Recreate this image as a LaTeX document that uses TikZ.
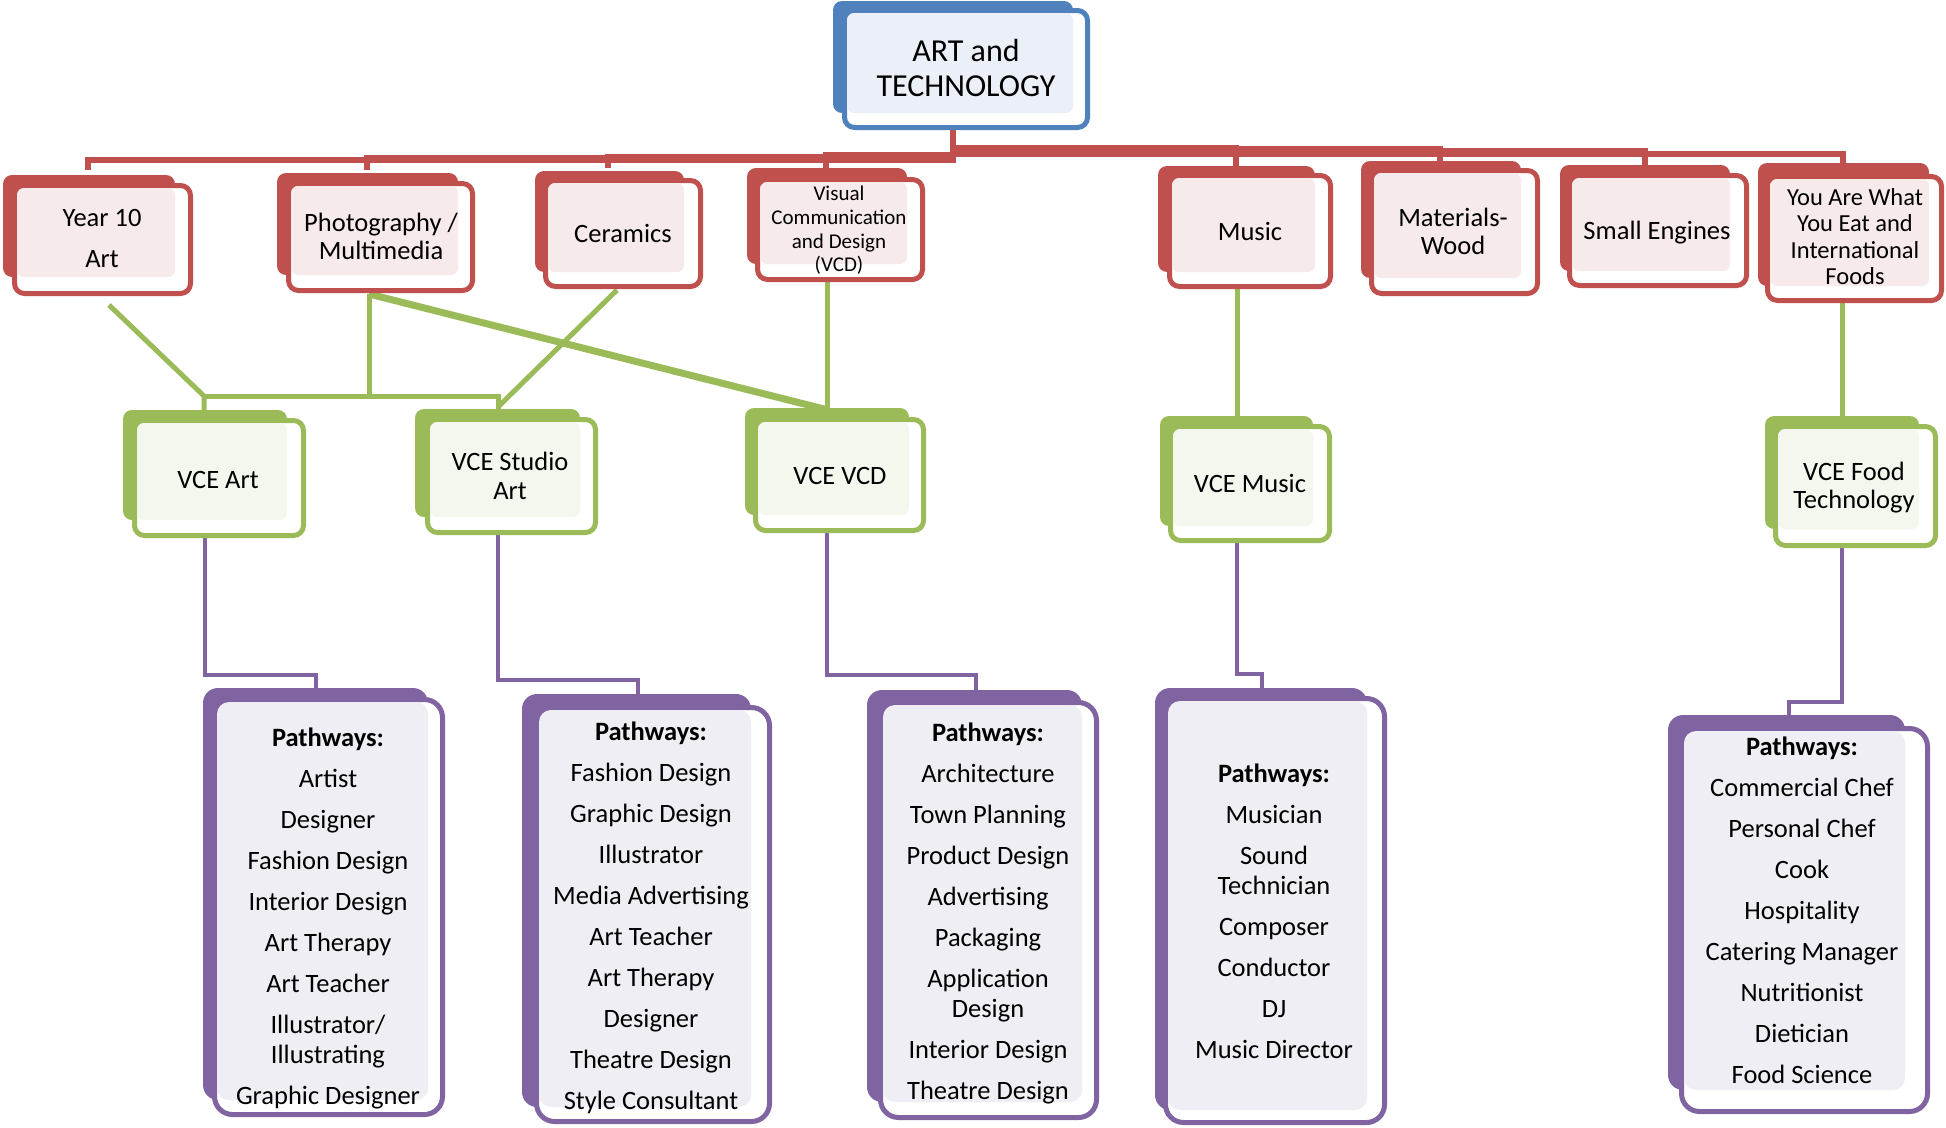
\documentclass[tikz,border=0pt]{standalone}
\usepackage{fontspec}
\setmainfont{Carlito}
\definecolor{R}{HTML}{C0504D}
\definecolor{RT}{HTML}{F7EAEA}
\definecolor{G}{HTML}{9BBB59}
\definecolor{GT}{HTML}{F4F7EE}
\definecolor{B}{HTML}{4F81BD}
\definecolor{BT}{HTML}{EBF0F8}
\definecolor{P}{HTML}{8064A2}
\definecolor{PT}{HTML}{F0EEF5}
\tikzset{
  backR/.style={fill=R, rounded corners=9pt},
  frontR/.style={draw=R, fill=white, line width=5pt, rounded corners=10pt},
  tintR/.style={fill=RT, rounded corners=7pt},
  backG/.style={fill=G, rounded corners=9pt},
  frontG/.style={draw=G, fill=white, line width=5pt, rounded corners=10pt},
  tintG/.style={fill=GT, rounded corners=7pt},
  backB/.style={fill=B, rounded corners=9pt},
  frontB/.style={draw=B, fill=white, line width=5pt, rounded corners=10pt},
  tintB/.style={fill=BT, rounded corners=7pt},
  backP/.style={fill=P, rounded corners=15pt},
  frontP/.style={draw=P, fill=white, line width=5pt, rounded corners=18pt},
  tintP/.style={fill=PT, rounded corners=12pt},
  conR/.style={draw=R, line width=6pt},
  conG/.style={draw=G, line width=5pt},
  conGw/.style={draw=G, line width=7pt},
  conP/.style={draw=P, line width=4.5pt},
  txt/.style={align=center, inner sep=0pt, text=black},
  fTop/.style={font=\fontsize{32}{35}\selectfont},
  fOne/.style={font=\fontsize{26.5}{28.5}\selectfont},
  fVcd/.style={font=\fontsize{21}{23.6}\selectfont},
  fYou/.style={font=\fontsize{24.5}{26.5}\selectfont},
  fPath/.style={font=\fontsize{26.5}{30}\selectfont},
}
\newcommand{\sabox}[9]{%
  \fill[back#1] (#2,#3) rectangle (#4,#5);
  \draw[front#1] ({#6+2.5},{#7+2.5}) rectangle ({#8-2.5},{#9-2.5});
  \fill[tint#1] ({#6+5},{#7+5}) rectangle (#4,#5);
}
\begin{document}
\begin{tikzpicture}[x=1pt,y=-1pt]
\useasboundingbox (0,0) rectangle (1946,1127);
% ---------- connector points ----------
\coordinate (artS) at (953,118);
\coordinate (jY) at (953,160);
\coordinate (jP) at (953,158);
\coordinate (jC) at (953,157);
\coordinate (jV) at (953,155);
\coordinate (jM) at (953,148);
\coordinate (jW) at (953,149);
\coordinate (jS) at (953,150.5);
\coordinate (jA) at (953,154);
\coordinate (y10N) at (88,170);
\coordinate (phN) at (367,170);
\coordinate (ceN) at (608,168);
\coordinate (vcdN) at (826,172);
\coordinate (muN) at (1236,168);
\coordinate (maN) at (1440,166);
\coordinate (smN) at (1645,168);
\coordinate (yaN) at (1843,168);
% green
\coordinate (y10S) at (109,305);
\coordinate (gA) at (204,396);
\coordinate (vaN) at (204,410);
\coordinate (phS) at (369,294);
\coordinate (gJ) at (369,396);
\coordinate (saN) at (498,410);
\coordinate (ceS) at (617,290);
\coordinate (saN2) at (499,406);
\coordinate (vvN) at (828,410);
\coordinate (vcdS) at (827,280);
\coordinate (vvN2) at (827,412);
\coordinate (muS) at (1237,286);
\coordinate (vmN) at (1237,420);
\coordinate (yaS) at (1842,300);
\coordinate (vfN) at (1842,420);
% purple
\coordinate (vaS) at (205,534);
\coordinate (pa1) at (316,675);
\coordinate (p1N) at (316,694);
\coordinate (saS) at (498,531);
\coordinate (pa2) at (638,680);
\coordinate (p2N) at (638,700);
\coordinate (vvS) at (827,529);
\coordinate (pa3) at (976,675);
\coordinate (p3N) at (976,695);
\coordinate (vmS) at (1237,539);
\coordinate (pa4) at (1262,674);
\coordinate (p4N) at (1262,694);
\coordinate (vfS) at (1842,544);
\coordinate (pa5) at (1789,702);
\coordinate (p5N) at (1789,720);
% ---------- connectors ----------
\draw[conR] (artS) -- (jY) -| (y10N);
\draw[conR] (artS) -- (jP) -| (phN);
\draw[conR] (artS) -- (jC) -| (ceN);
\draw[conR] (artS) -- (jV) -| (vcdN);
\draw[conR] (artS) -- (jM) -| (muN);
\draw[conR] (artS) -- (jW) -| (maN);
\draw[conR] (artS) -- (jS) -| (smN);
\draw[conR] (artS) -- (jA) -| (yaN);
\draw[conG] (y10S) -- (gA) -- (vaN);
\draw[conG] (phS) -- (gJ);
\draw[conG] (gA) -| (saN);
\draw[conG] (ceS) -- (saN2);
\draw[conGw] (phS) -- (vvN);
\draw[conG] (vcdS) -- (vvN2);
\draw[conG] (muS) -- (vmN);
\draw[conG] (yaS) -- (vfN);
\draw[conP] (vaS) |- (pa1) -- (p1N);
\draw[conP] (saS) |- (pa2) -- (p2N);
\draw[conP] (vvS) |- (pa3) -- (p3N);
\draw[conP] (vmS) |- (pa4) -- (p4N);
\draw[conP] (vfS) |- (pa5) -- (p5N);
% ---------- boxes ----------
\sabox{B}{833}{1}{1073}{113}{842}{8}{1090}{130}
\sabox{R}{3}{175}{175}{277}{12}{183}{193}{296}
\sabox{R}{277}{173}{458}{275}{286}{181}{475}{293}
\sabox{R}{535}{171}{684}{272}{543}{178}{703}{289}
\sabox{R}{747}{168}{907}{264}{755}{177}{925}{282}
\sabox{R}{1158}{166}{1315}{272}{1167}{173}{1333}{289}
\sabox{R}{1361}{161}{1521}{278}{1369}{168}{1540}{296}
\sabox{R}{1560}{165}{1730}{271}{1567}{173}{1749}{288}
\sabox{R}{1758}{163}{1929}{286}{1765}{174}{1944}{303}
\sabox{G}{123}{410}{287}{520}{132}{418}{306}{538}
\sabox{G}{415}{409}{580}{517}{425}{417}{598}{535}
\sabox{G}{745}{408}{909}{515}{753}{417}{926}{533}
\sabox{G}{1160}{416}{1313}{526}{1168}{424}{1332}{543}
\sabox{G}{1765}{416}{1919}{529}{1773}{424}{1938}{548}
\sabox{P}{203}{688}{428}{1100}{212}{697}{445}{1117}
\sabox{P}{522}{694}{751}{1107}{534}{705}{772}{1124}
\sabox{P}{867}{690}{1082}{1102}{878}{700}{1099}{1120}
\sabox{P}{1155}{688}{1367}{1110}{1163}{696}{1387}{1125}
\sabox{P}{1668}{715}{1905}{1090}{1679}{726}{1930}{1114}
% ---------- texts ----------
\node[txt,fTop] (art) at (966,68) {ART and\\TECHNOLOGY};
\node[txt,fOne] (y10) at (102,238) {Year 10\\[12.5pt]Art};
\node[txt,fOne] (ph) at (381,236.5) {Photography /\\Multimedia};
\node[txt,fOne] (ce) at (623,233) {Ceramics};
\node[txt,fVcd] (vcd) at (839,230.5) {Visual\\Communication\\and Design\\(VCD)};
\node[txt,fOne] (mu) at (1250,231) {Music};
\node[txt,fOne] (ma) at (1453,231.5) {Materials-\\Wood};
\node[txt,fOne] (sm) at (1657,232.5) {Small Engines};
\node[txt,fYou] (ya) at (1855,236.5) {You Are What\\You Eat and\\International\\Foods};
\node[txt,fOne] (va) at (218,479.5) {VCE Art};
\node[txt,fOne] (sa) at (510,476) {VCE Studio\\Art};
\node[txt,fOne] (vv) at (840,475.5) {VCE VCD};
\node[txt,fOne] (vm) at (1250,483) {VCE Music};
\node[txt,fOne] (vf) at (1854,487.5) {VCE Food\\Technology};
\node[txt,fPath] (p1) at (328,918) {\textbf{Pathways:}\\[11pt]Artist\\[11pt]Designer\\[11pt]Fashion Design\\[11pt]Interior Design\\[11pt]Art Therapy\\[11pt]Art Teacher\\[11pt]Illustrator/\\Illustrating\\[11pt]Graphic Designer};
\node[txt,fPath] (p2) at (651,917.5) {\textbf{Pathways:}\\[11pt]Fashion Design\\[11pt]Graphic Design\\[11pt]Illustrator\\[11pt]Media Advertising\\[11pt]Art Teacher\\[11pt]Art Therapy\\[11pt]Designer\\[11pt]Theatre Design\\[11pt]Style Consultant};
\node[txt,fPath] (p3) at (988,913) {\textbf{Pathways:}\\[11pt]Architecture\\[11pt]Town Planning\\[11pt]Product Design\\[11pt]Advertising\\[11pt]Packaging\\[11pt]Application\\Design\\[11pt]Interior Design\\[11pt]Theatre Design};
\node[txt,fPath] (p4) at (1274,911.5) {\textbf{Pathways:}\\[11pt]Musician\\[11pt]Sound\\Technician\\[11pt]Composer\\[11pt]Conductor\\[11pt]DJ\\[11pt]Music Director};
\node[txt,fPath] (p5) at (1802,910) {\textbf{Pathways:}\\[11pt]Commercial Chef\\[11pt]Personal Chef\\[11pt]Cook\\[11pt]Hospitality\\[11pt]Catering Manager\\[11pt]Nutritionist\\[11pt]Dietician\\[11pt]Food Science};
\end{tikzpicture}
\end{document}
